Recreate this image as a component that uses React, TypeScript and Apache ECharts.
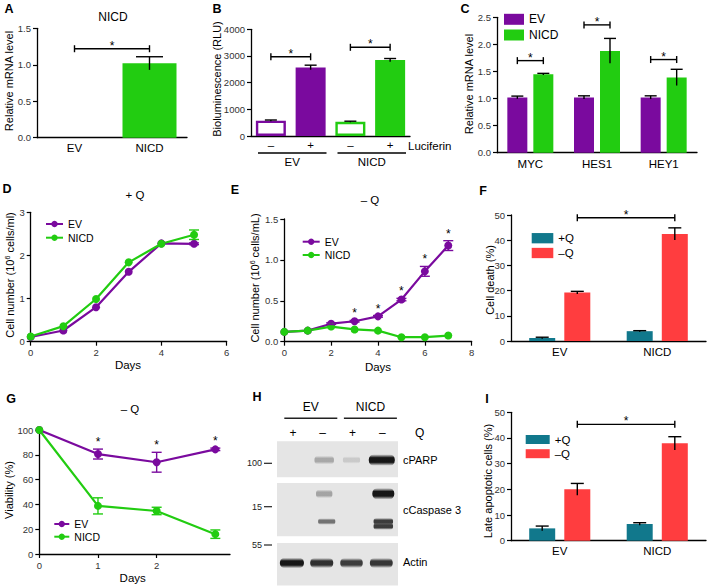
import React, { useEffect, useRef } from "react";
import * as echarts from "echarts";

const FONT = '"Liberation Sans", Arial, Helvetica, sans-serif';
const PURPLE = "#7A0A9E";
const GREEN = "#22CC11";
const TEAL = "#11788C";
const RED = "#FF3D3F";

// ---------- A ----------
const aCategories = ["EV", "NICD"];
const aValues = [0, 1.02];
const aErrors = [0, 0.09];
const aColors = [PURPLE, GREEN];
const aBrackets = [[0, 1, 1.22]];

// ---------- B ----------
const bCategories = ["–", "+", "–", "+"];
const bGroups = ["EV", "NICD"];
const bValues = [575, 2570, 535, 2845];
const bErrors = [25, 85, 20, 60];
const bFilled = [false, true, false, true];
const bColors = [PURPLE, PURPLE, GREEN, GREEN];
const bBrackets = [[0, 1, 2970], [2, 3, 3325]];

// ---------- C ----------
const cCategories = ["MYC", "HES1", "HEY1"];
const cEV = [1.02, 1.02, 1.02];
const cEVErr = [0.025, 0.03, 0.03];
const cNICD = [1.45, 1.88, 1.39];
const cNICDErr = [0.015, 0.23, 0.15];
const cBrackets = [[0, 0, 1.7], [1, 1, 2.36], [2, 2, 1.72]];

// ---------- D ----------
const dDays = [0, 1, 2, 3, 4, 5];
const dEV = [0.11, 0.26, 0.8, 1.62, 2.28, 2.27];
const dEVErr = [0, 0, 0, 0, 0, 0.02];
const dNICD = [0.12, 0.36, 0.99, 1.84, 2.27, 2.48];
const dNICDErr = [0, 0, 0, 0, 0, 0.11];

// ---------- E ----------
const eDays = [0, 1, 2, 3, 4, 5, 6, 7];
const eEV = [0.12, 0.135, 0.22, 0.25, 0.31, 0.515, 0.86, 1.175];
const eEVErr = [0, 0, 0.01, 0.01, 0.01, 0.015, 0.06, 0.06];
const eNICD = [0.12, 0.135, 0.185, 0.15, 0.135, 0.055, 0.055, 0.075];
const eNICDErr = [0, 0, 0, 0, 0, 0, 0, 0];
const eStarDays = [3, 4, 5, 6, 7];

// ---------- F ----------
const fCategories = ["EV", "NICD"];
const fPlusQ = [1.2, 3.9];
const fPlusQErr = [0.3, 0.2];
const fMinusQ = [19.2, 42.5];
const fMinusQErr = [0.5, 2.4];
const fBrackets = [[0, 1, 48.9]];

// ---------- G ----------
const gDays = [0, 1, 2, 3];
const gEV = [100, 80.6, 74, 84.4];
const gEVErr = [0, 4, 8, 1];
const gNICD = [100, 38.8, 34.7, 16];
const gNICDErr = [0, 6.5, 3, 3.4];
const gStarDays = [1, 2, 3];

// ---------- H (western blot band intensities, 4 lanes) ----------
const hGroups = ["EV", "NICD"];
const hLanesQ = ["+", "–", "+", "–"];
const hPARP = [0, 0.35, 0.12, 1];
const hCaspUpper = [0, 0.38, 0, 1];
const hCaspLower = [0, 0.62, 0, 0.85];
const hCaspLower2 = [0, 0, 0, 0.85];
const hActin = [1, 0.9, 0.85, 0.88];
const hRowLabels = ["cPARP", "cCaspase 3", "Actin"];
const hMarkers = ["100", "15", "55"];

// ---------- I ----------
const iCategories = ["EV", "NICD"];
const iPlusQ = [4.8, 6.5];
const iPlusQErr = [0.9, 0.5];
const iMinusQ = [20, 37.9];
const iMinusQErr = [2.3, 2.6];
const iBrackets = [[0, 1, 45.3]];

// ---------------- helpers ----------------
const axisLine = { show: true, onZero: false, lineStyle: { color: "#000", width: 1.3 } };
const tick = { show: true, inside: false, length: 4, lineStyle: { color: "#000", width: 1.2 } };
const numLabel = (fmt: (v: number) => string, margin: number) => ({
  fontSize: 9.5, color: "#333", margin, formatter: fmt, fontFamily: FONT,
});
const fix1 = (v: number) => v.toFixed(1);
const plain = (v: number) => String(v);

function yVal(gridIndex: number, max: number, interval: number, fmt: (v: number) => string) {
  return {
    type: "value", gridIndex, min: 0, max, interval,
    axisLine, axisTick: tick, splitLine: { show: false },
    axisLabel: numLabel(fmt, 6),
  };
}
function xCat(gridIndex: number, data: string[], margin: number) {
  return {
    type: "category", gridIndex, data,
    axisLine: { ...axisLine, onZero: true }, axisTick: { show: false }, splitLine: { show: false },
    axisLabel: { fontSize: 11.5, color: "#000", margin, interval: 0, fontFamily: FONT },
  };
}
function xVal(gridIndex: number, max: number, interval: number, ticks?: number[]) {
  const o: any = {
    type: "value", gridIndex, min: 0, max, interval,
    axisLine, axisTick: { ...tick }, splitLine: { show: false },
    axisLabel: numLabel(plain, 6),
  };
  if (ticks) {
    o.axisTick.customValues = ticks;
    o.axisLabel.customValues = ticks;
    o.axisLabel.showMaxLabel = false;
  }
  return o;
}

function errBar(offset: number, cap: number, both: boolean, color: string) {
  return (_p: any, api: any) => {
    const x = api.value(0), v = api.value(1), e = api.value(2);
    const t = api.coord([x, v + e]);
    const b = api.coord([x, v - e]);
    const cx = t[0] + offset;
    const style = { stroke: color, lineWidth: 1.4, fill: null };
    const children: any[] = [
      { type: "line", shape: { x1: cx, y1: b[1], x2: cx, y2: t[1] }, style },
      { type: "line", shape: { x1: cx - cap / 2, y1: t[1], x2: cx + cap / 2, y2: t[1] }, style },
    ];
    if (both) children.push({ type: "line", shape: { x1: cx - cap / 2, y1: b[1], x2: cx + cap / 2, y2: b[1] }, style });
    return { type: "group", children };
  };
}
function errSeries(axis: number, xs: number[], vals: number[], errs: number[], offset: number, cap: number, both: boolean, color: string) {
  return {
    type: "custom", xAxisIndex: axis, yAxisIndex: axis, z: 6, silent: true,
    data: xs.map((x, i) => [x, vals[i], errs[i]]).filter((d) => d[2] > 0),
    renderItem: errBar(offset, cap, both, color),
  };
}
function bracketSeries(axis: number, brackets: number[][], off1: number, off2: number) {
  return {
    type: "custom", xAxisIndex: axis, yAxisIndex: axis, z: 6, silent: true,
    data: brackets, encode: { x: 0, y: 2 },
    renderItem: (_p: any, api: any) => {
      const a = api.coord([api.value(0), api.value(2)]);
      const b = api.coord([api.value(1), api.value(2)]);
      const x1 = a[0] + off1, x2 = b[0] + off2, y = a[1];
      const style = { stroke: "#000", lineWidth: 1.4, fill: null };
      return {
        type: "group",
        children: [
          { type: "line", shape: { x1, y1: y, x2, y2: y }, style },
          { type: "line", shape: { x1, y1: y - 3.5, x2: x1, y2: y + 3.5 }, style },
          { type: "line", shape: { x1: x2, y1: y - 3.5, x2, y2: y + 3.5 }, style },
          {
            type: "text", x: (x1 + x2) / 2, y: y - 6 + 3,
            style: { text: "*", fontSize: 12, fontFamily: FONT, fill: "#000", align: "center", verticalAlign: "middle" },
          },
        ],
      };
    },
  };
}
function starSeries(axis: number, xs: number[], vals: number[], errs: number[], days: number[]) {
  return {
    type: "custom", xAxisIndex: axis, yAxisIndex: axis, z: 6, silent: true,
    data: days.map((d) => { const i = xs.indexOf(d); return [d, vals[i] + errs[i]]; }),
    renderItem: (_p: any, api: any) => {
      const p = api.coord([api.value(0), api.value(1)]);
      return {
        type: "text", x: p[0], y: p[1] - 10 + 3,
        style: { text: "*", fontSize: 12, fontFamily: FONT, fill: "#000", align: "center", verticalAlign: "middle" },
      };
    },
  };
}
function lineSeries(name: string, axis: number, xs: number[], vals: number[], color: string) {
  return {
    type: "line", name, xAxisIndex: axis, yAxisIndex: axis, z: 3,
    data: xs.map((x, i) => [x, vals[i]]),
    symbol: "circle", symbolSize: 8, showSymbol: true,
    itemStyle: { color }, lineStyle: { color, width: 2.2 },
  };
}
const legendFmt = (n: string) => n.split("|")[0];
function legend(left: number, top: number, data: string[], iw: number, ih: number, gap: number, fontSize: number, icon?: string) {
  const o: any = {
    left, top, orient: "vertical", padding: 0, itemWidth: iw, itemHeight: ih, itemGap: gap,
    data, formatter: legendFmt, selectedMode: false,
    textStyle: { fontSize, lineHeight: 12, color: "#000", fontFamily: FONT },
  };
  if (icon) o.icon = icon;
  return o;
}
function T(text: string, x: number, y: number, o: any = {}) {
  return {
    type: "text", x, y, rotation: o.rot || 0, z: 10, silent: true,
    style: {
      text, fontSize: o.size || 11, fontWeight: o.bold ? "bold" : "normal", fontFamily: FONT,
      fill: o.color || "#000", align: o.align || "center", verticalAlign: "middle",
      textAlign: o.align || "center", textVerticalAlign: "middle", rich: o.rich,
    },
  };
}

// grouped bar offsets
const C_BW = 20, C_GAP = 0.3, C_OFF = (C_BW * (1 + C_GAP)) / 2;
const F_BW = 26, F_GAP = 0.35, F_OFF = (F_BW * (1 + F_GAP)) / 2;

function westernBlot(): any[] {
  const els: any[] = [];
  const left = 277, laneW = 29.8, width = 121;
  const laneX = (i: number) => left + (i + 0.5) * laneW;
  hGroups.forEach((g, gi) => {
    const cx = (laneX(gi * 2) + laneX(gi * 2 + 1)) / 2 + 4;
    els.push(T(g, cx, 406.7, { size: 12 }));
    els.push({ type: "line", shape: { x1: cx - 26.5, y1: 418.3, x2: cx + 26.5, y2: 418.3 }, style: { stroke: "#222", lineWidth: 1.4 } });
  });
  hLanesQ.forEach((q, i) => els.push(T(q, laneX(i) + 1, 432.7, { size: 12 })));
  els.push(T("Q", 415, 432.7, { size: 12, align: "left" }));
  const panels = [
    { top: 441.3, h: 36, marker: 463.3, label: 460 },
    { top: 483, h: 53.3, marker: 506.7, label: 510 },
    { top: 543, h: 42.5, marker: 545, label: 561.7 },
  ];
  panels.forEach((p, pi) => {
    els.push({ type: "rect", shape: { x: left, y: p.top, width, height: p.h }, style: { fill: "#E5E5E5" }, z: 1 });
    els.push(T(hMarkers[pi], 262, p.marker, { size: 9, align: "right", color: "#222" }));
    els.push({ type: "line", shape: { x1: 264, y1: p.marker, x2: 272, y2: p.marker }, style: { stroke: "#222", lineWidth: 1.2 } });
    els.push(T(hRowLabels[pi], 403, p.label, { size: 11, align: "left" }));
  });
  const bands = [
    { y: 460, maxH: 8.5, w0: 16, w1: 10, dx: [0, 2.5, 0, 0.5], data: hPARP },
    { y: 493.8, maxH: 8.5, w0: 13, w1: 9, dx: [0, 2.5, 0, 2], data: hCaspUpper },
    { y: 521.5, maxH: 4.5, w0: 11, w1: 10, dx: [0, 5, 0, 2], data: hCaspLower },
    { y: 526.3, maxH: 4.5, w0: 11, w1: 10, dx: [0, 5, 0, 2], data: hCaspLower2 },
    { y: 563, maxH: 7.5, w0: 14, w1: 10, dx: [0, 0, 0, 0], data: hActin },
  ];
  bands.forEach((b) => {
    b.data.forEach((v, i) => {
      if (v <= 0) return;
      const w = b.w0 + b.w1 * v;
      const h = b.maxH * (0.45 + 0.55 * v) + 3;
      const a = 0.08 + 0.9 * Math.pow(v, 1.4);
      const col = `rgba(18,18,18,${a.toFixed(2)})`;
      const clear = "rgba(18,18,18,0)";
      const cx = laneX(i) + b.dx[i];
      els.push({
        type: "rect", z: 2,
        shape: { x: cx - w / 2, y: b.y - h / 2, width: w, height: h, r: h / 2.2 },
        style: {
          fill: {
            type: "linear", x: 0, y: 0, x2: 0, y2: 1,
            colorStops: [
              { offset: 0, color: clear },
              { offset: 0.3, color: col },
              { offset: 0.7, color: col },
              { offset: 1, color: clear },
            ],
          },
        },
      });
    });
  });
  return els;
}

function buildOption(): any {
  const supRich = { sup: { fontSize: 7, verticalAlign: "top", padding: [0, 0, 6, 0], fontFamily: FONT } };
  const graphics: any[] = [
    T("A", 9, 9, { bold: true, size: 12.5 }),
    T("B", 217, 9, { bold: true, size: 12.5 }),
    T("C", 465, 9, { bold: true, size: 12.5 }),
    T("D", 7, 189, { bold: true, size: 12.5 }),
    T("E", 235, 190, { bold: true, size: 12.5 }),
    T("F", 483, 191, { bold: true, size: 12.5 }),
    T("G", 11, 399, { bold: true, size: 12.5 }),
    T("H", 257, 397, { bold: true, size: 12.5 }),
    T("I", 487, 399, { bold: true, size: 12.5 }),
    T("NICD", 113, 17, { size: 12 }),
    T("+ Q", 135, 195, { size: 11.5 }),
    T("– Q", 370, 200, { size: 11.5 }),
    T("– Q", 130, 409, { size: 11.5 }),
    T("Relative mRNA level", 8.5, 81, { rot: Math.PI / 2, size: 11 }),
    T("Bioluminescence (RLU)", 216.5, 79, { rot: Math.PI / 2, size: 11 }),
    T("Relative mRNA level", 469, 84, { rot: Math.PI / 2, size: 11 }),
    T("Cell number (10{sup|6} cells/ml)", 10, 275, { rot: Math.PI / 2, size: 11, rich: supRich }),
    T("Cell number (10{sup|6} cells/mL)", 255, 278, { rot: Math.PI / 2, size: 11, rich: supRich }),
    T("Cell death (%)", 490, 280, { rot: Math.PI / 2, size: 11 }),
    T("Viability (%)", 9.3, 490, { rot: Math.PI / 2, size: 11 }),
    T("Late apoptotic cells (%)", 488, 481, { rot: Math.PI / 2, size: 11 }),
    T("Days", 128, 365, { size: 11.5 }),
    T("Days", 378, 366.7, { size: 11.5 }),
    T("Days", 132.7, 578.3, { size: 11.5 }),
    T("Luciferin", 408, 146, { size: 11.5, align: "left" }),
    ...westernBlot(),
  ];

  const bGroupLines = {
    type: "custom", xAxisIndex: 1, yAxisIndex: 1, z: 6, silent: true,
    data: bGroups.map((_g, i) => [2 * i, 2 * i + 1]), encode: { x: 0 },
    renderItem: (p: any, api: any) => {
      const a = api.coord([api.value(0), 0]);
      const b = api.coord([api.value(1), 0]);
      const half = api.size([1, 0])[0] / 2;
      const x1 = a[0] - half + 7, x2 = b[0] + half - 4, y = a[1] + 17;
      return {
        type: "group",
        children: [
          { type: "line", shape: { x1, y1: y, x2, y2: y }, style: { stroke: "#000", lineWidth: 1.3 } },
          {
            type: "text", x: (x1 + x2) / 2, y: y + 8.5,
            style: { text: bGroups[p.dataIndex], fontSize: 11.5, fontFamily: FONT, fill: "#000", align: "center", verticalAlign: "middle" },
          },
        ],
      };
    },
  };

  return {
    animation: false,
    backgroundColor: "#fff",
    textStyle: { fontFamily: FONT },
    grid: [
      { left: 37, top: 28.3, width: 150, height: 109.4, outerBoundsMode: "none" },
      { left: 251, top: 29.3, width: 159, height: 106.7, outerBoundsMode: "none" },
      { left: 497, top: 17.3, width: 200, height: 135.4, outerBoundsMode: "none" },
      { left: 30.7, top: 212.3, width: 196, height: 129.4, outerBoundsMode: "none" },
      { left: 284.3, top: 219, width: 187.4, height: 122.7, outerBoundsMode: "none" },
      { left: 511, top: 215, width: 195, height: 126, outerBoundsMode: "none" },
      { left: 39.3, top: 430, width: 190.7, height: 124, outerBoundsMode: "none" },
      { left: 511, top: 412.3, width: 195, height: 128.4, outerBoundsMode: "none" },
    ],
    xAxis: [
      xCat(0, aCategories, 4),
      xCat(1, bCategories, 3),
      xCat(2, cCategories, 5),
      xVal(3, 6, 2),
      xVal(4, 8, 2),
      xCat(5, fCategories, 5),
      xVal(6, 3.25, 1, gDays),
      xCat(7, iCategories, 4.5),
    ],
    yAxis: [
      yVal(0, 1.5, 0.5, fix1),
      yVal(1, 4000, 1000, plain),
      yVal(2, 2.5, 0.5, fix1),
      yVal(3, 3, 1, plain),
      yVal(4, 1.5, 0.5, fix1),
      yVal(5, 50, 10, plain),
      yVal(6, 100, 20, plain),
      yVal(7, 50, 10, plain),
    ],
    legend: [
      legend(504, 13.3, ["EV|C", "NICD|C"], 20, 11, 3.7, 12, "rect"),
      legend(45, 218, ["EV|D", "NICD|D"], 17, 8, 1.7, 10.5),
      legend(301.7, 235.7, ["EV|E", "NICD|E"], 17, 8, 1.3, 10.5),
      legend(531.7, 232.2, ["+Q|F", "–Q|F"], 21.6, 10.3, 2.8, 11.5, "rect"),
      legend(53.3, 518, ["EV|G", "NICD|G"], 15, 8, 0.7, 10.5),
      legend(525.7, 433.5, ["+Q|I", "–Q|I"], 24, 9, 2.2, 11.5, "rect"),
    ],
    graphic: { elements: graphics },
    series: [
      // A
      {
        type: "bar", name: "A", xAxisIndex: 0, yAxisIndex: 0, barWidth: 54,
        data: aValues.map((v, i) => ({ value: v, itemStyle: { color: aColors[i] } })),
      },
      errSeries(0, aValues.map((_v, i) => i), aValues, aErrors, 0, 27, false, "#000"),
      bracketSeries(0, aBrackets, 0, 0),
      // B
      {
        type: "bar", name: "B", xAxisIndex: 1, yAxisIndex: 1, barWidth: 30,
        data: bValues.map((v, i) => ({
          value: v,
          itemStyle: bFilled[i]
            ? { color: bColors[i] }
            : { color: "#fff", borderColor: bColors[i], borderWidth: 2.4 },
        })),
      },
      errSeries(1, bValues.map((_v, i) => i), bValues, bErrors, 0, 12, false, "#000"),
      bracketSeries(1, bBrackets, 0, 0),
      bGroupLines,
      // C
      {
        type: "bar", name: "EV|C", xAxisIndex: 2, yAxisIndex: 2, barWidth: C_BW, barGap: "30%",
        itemStyle: { color: PURPLE }, data: cEV,
      },
      {
        type: "bar", name: "NICD|C", xAxisIndex: 2, yAxisIndex: 2, barWidth: C_BW, barGap: "30%",
        itemStyle: { color: GREEN }, data: cNICD,
      },
      errSeries(2, cEV.map((_v, i) => i), cEV, cEVErr, -C_OFF, 12, false, "#000"),
      errSeries(2, cNICD.map((_v, i) => i), cNICD, cNICDErr, C_OFF, 12, false, "#000"),
      bracketSeries(2, cBrackets, -C_OFF, C_OFF),
      // D
      lineSeries("EV|D", 3, dDays, dEV, PURPLE),
      lineSeries("NICD|D", 3, dDays, dNICD, GREEN),
      errSeries(3, dDays, dEV, dEVErr, 0, 10, true, PURPLE),
      errSeries(3, dDays, dNICD, dNICDErr, 0, 10, true, GREEN),
      // E
      lineSeries("EV|E", 4, eDays, eEV, PURPLE),
      lineSeries("NICD|E", 4, eDays, eNICD, GREEN),
      errSeries(4, eDays, eEV, eEVErr, 0, 10, true, PURPLE),
      errSeries(4, eDays, eNICD, eNICDErr, 0, 10, true, GREEN),
      starSeries(4, eDays, eEV, eEVErr, eStarDays),
      // F
      {
        type: "bar", name: "+Q|F", xAxisIndex: 5, yAxisIndex: 5, barWidth: F_BW, barGap: "35%",
        itemStyle: { color: TEAL }, data: fPlusQ,
      },
      {
        type: "bar", name: "–Q|F", xAxisIndex: 5, yAxisIndex: 5, barWidth: F_BW, barGap: "35%",
        itemStyle: { color: RED }, data: fMinusQ,
      },
      errSeries(5, fPlusQ.map((_v, i) => i), fPlusQ, fPlusQErr, -F_OFF, 13, false, "#000"),
      errSeries(5, fMinusQ.map((_v, i) => i), fMinusQ, fMinusQErr, F_OFF, 13, false, "#000"),
      bracketSeries(5, fBrackets, F_OFF, F_OFF),
      // G
      lineSeries("EV|G", 6, gDays, gEV, PURPLE),
      lineSeries("NICD|G", 6, gDays, gNICD, GREEN),
      errSeries(6, gDays, gEV, gEVErr, 0, 10, true, PURPLE),
      errSeries(6, gDays, gNICD, gNICDErr, 0, 10, true, GREEN),
      starSeries(6, gDays, gEV, gEVErr, gStarDays),
      // I
      {
        type: "bar", name: "+Q|I", xAxisIndex: 7, yAxisIndex: 7, barWidth: F_BW, barGap: "35%",
        itemStyle: { color: TEAL }, data: iPlusQ,
      },
      {
        type: "bar", name: "–Q|I", xAxisIndex: 7, yAxisIndex: 7, barWidth: F_BW, barGap: "35%",
        itemStyle: { color: RED }, data: iMinusQ,
      },
      errSeries(7, iPlusQ.map((_v, i) => i), iPlusQ, iPlusQErr, -F_OFF, 13, false, "#000"),
      errSeries(7, iMinusQ.map((_v, i) => i), iMinusQ, iMinusQErr, F_OFF, 13, false, "#000"),
      bracketSeries(7, iBrackets, F_OFF, F_OFF),
    ],
  };
}

export default function App() {
  const ref = useRef<HTMLDivElement>(null);
  useEffect(() => {
    if (!ref.current) return;
    const chart = echarts.init(ref.current, null, { renderer: "svg" });
    chart.setOption(buildOption());
    return () => chart.dispose();
  }, []);
  return (
    <div
      ref={ref}
      style={{ position: "absolute", left: 0, top: 0, width: 709, height: 586, background: "#fff" }}
    />
  );
}
